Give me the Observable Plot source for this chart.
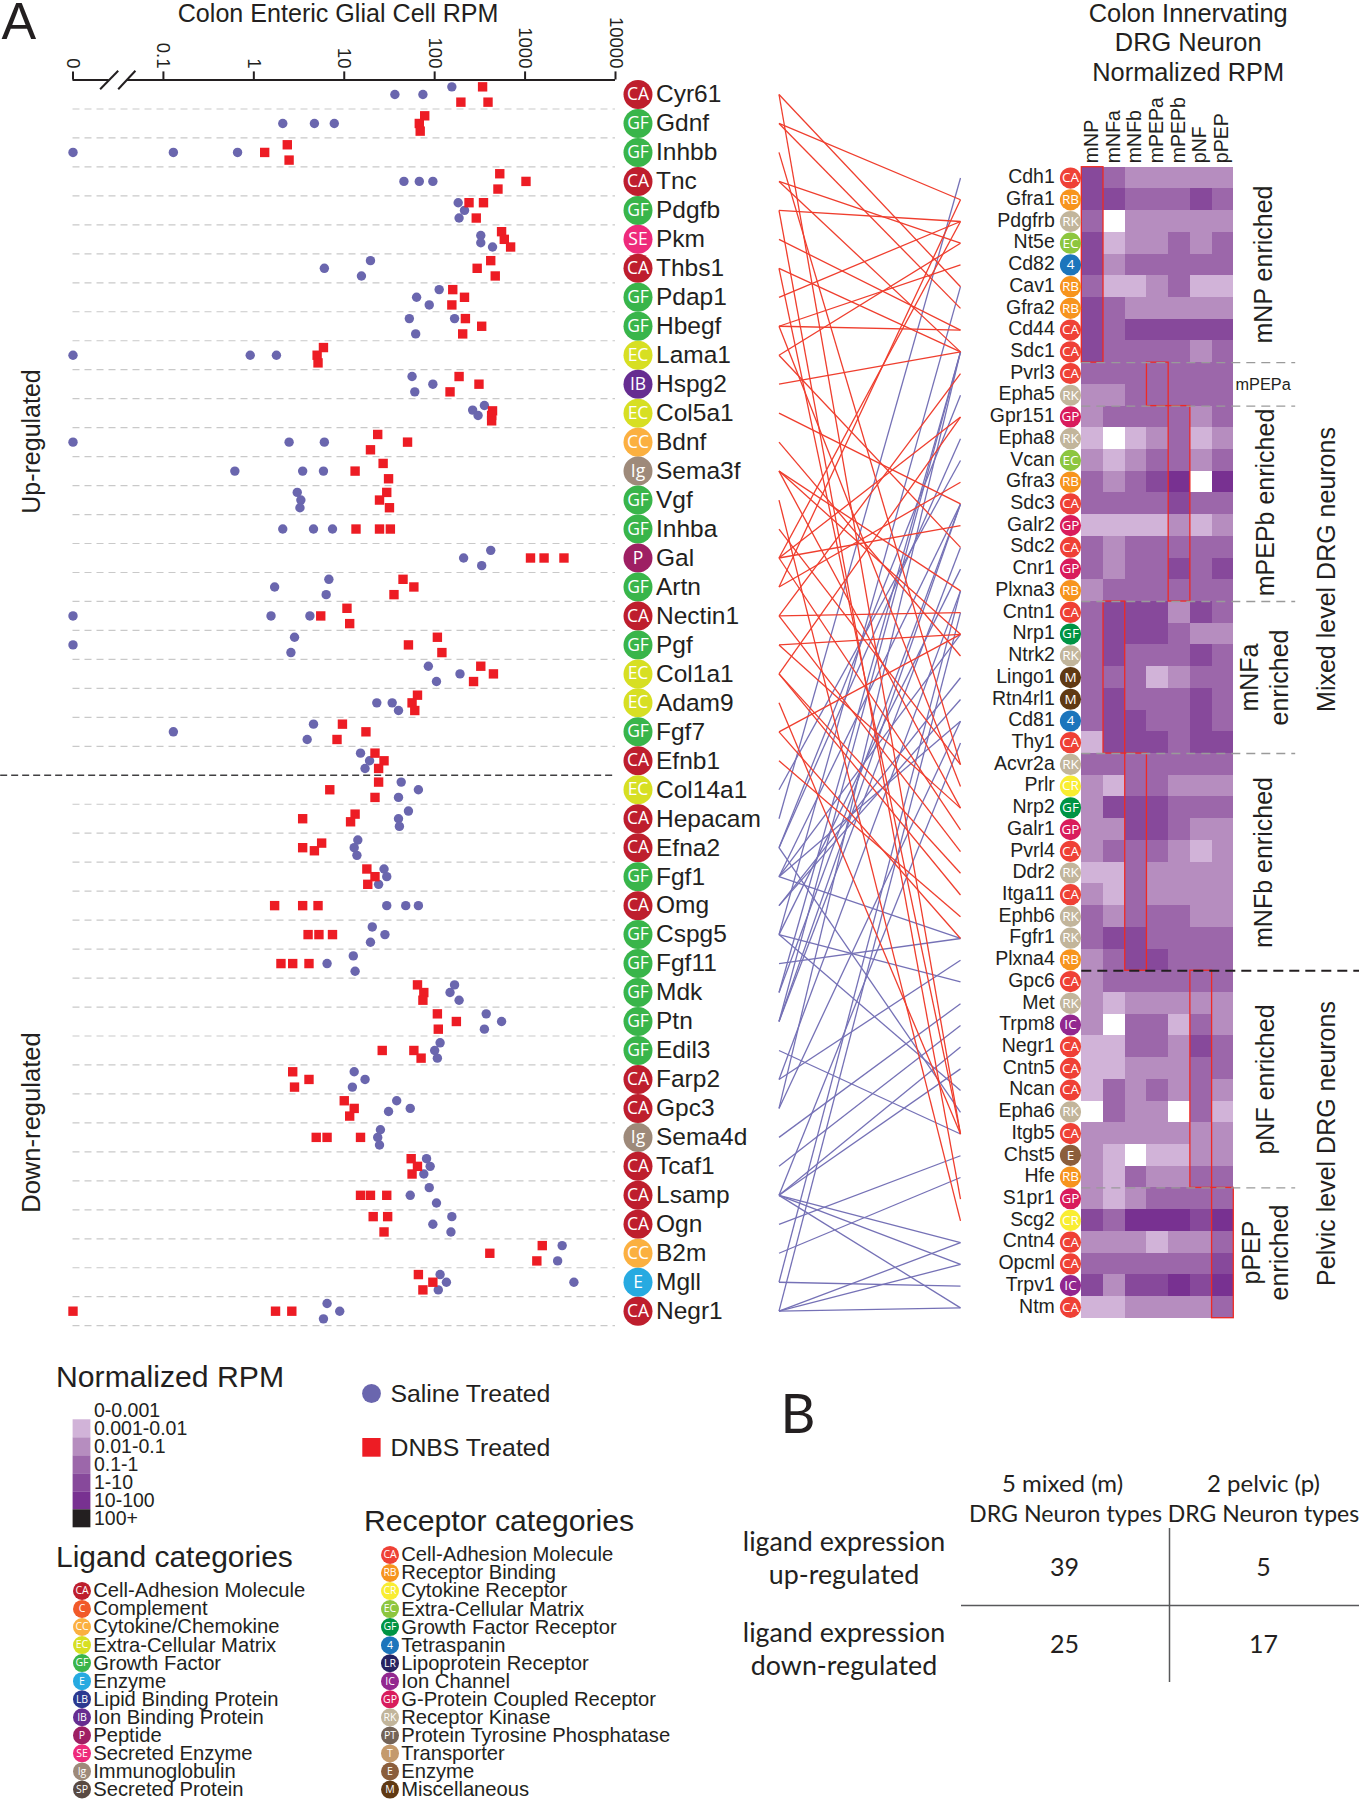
<!DOCTYPE html>
<html><head><meta charset="utf-8">
<script src="https://cdn.jsdelivr.net/npm/d3@7"></script>
<script src="https://cdn.jsdelivr.net/npm/@observablehq/plot@0.6"></script>
<style>
html,body{margin:0;padding:0;background:#fff}
#page{position:relative;width:1359px;height:1800px;overflow:hidden}
#page svg{position:absolute;left:0;top:0;background:transparent;overflow:visible}
</style></head><body><div id="page"></div>
<script>
// ---------- Panel A, left: ligands ----------
const ligandNames = ["Cyr61","Gdnf","Inhbb","Tnc","Pdgfb","Pkm","Thbs1","Pdap1","Hbegf","Lama1","Hspg2","Col5a1","Bdnf","Sema3f","Vgf","Inhba","Gal","Artn","Nectin1","Pgf","Col1a1","Adam9","Fgf7","Efnb1","Col14a1","Hepacam","Efna2","Fgf1","Omg","Cspg5","Fgf11","Mdk","Ptn","Edil3","Farp2","Gpc3","Sema4d","Tcaf1","Lsamp","Ogn","B2m","Mgll","Negr1"];
const ligandCats = ["CA","GF","GF","CA","GF","SE","CA","GF","GF","EC","IB","EC","CC","Ig","GF","GF","P","GF","CA","GF","EC","EC","GF","CA","EC","CA","CA","GF","CA","GF","GF","GF","GF","GF","CA","CA","Ig","CA","CA","CA","CC","E","CA"];
// log10 RPM per replicate; -2 is the "0" position of the broken axis
const salineLog = [[2.19,1.56,1.87],[0.32,0.67,0.89],[-2,-0.89,-0.18],[1.66,1.83,1.98],[2.26,2.33,2.27],[2.51,2.51,2.64],[1.29,0.78,1.19],[2.05,1.80,1.94],[1.72,2.22,1.79],[-2,-0.04,0.25],[1.75,1.98,1.78],[2.55,2.42,2.48],[-2,0.39,0.78],[-0.21,0.54,0.77],[0.48,0.52,0.51],[0.32,0.66,0.87],[2.62,2.32,2.52],[0.83,0.23,0.80],[-2,0.19,0.62],[0.45,-2,0.41],[1.93,2.28,2.02],[1.36,1.53,1.60],[0.66,-0.89,0.59],[1.18,1.28,1.23],[1.63,1.82,1.60],[1.71,1.60,1.61],[1.15,1.11,1.14],[1.44,1.47,1.38],[1.47,1.68,1.82],[1.31,1.45,1.29],[1.10,0.81,1.12],[2.22,2.17,2.27],[2.57,2.74,2.55],[2.06,2.00,2.03],[1.11,1.23,1.09],[1.58,1.73,1.49],[1.40,1.37,1.39],[1.91,1.95,1.88],[1.94,1.73,2.02],[2.19,1.98,2.18],[3.41,3.36],[2.06,2.13,2.04,3.54],[0.81,0.95,0.77]];
const salineLane = [[-1,0,0],[0,0,0],[0,0,0],[0,0,0],[-1,0,1],[-.5,.45,1],[-1,0,1],[-1,0,1],[-1,-1,1],[0,0,0],[-1,0,1],[-1,-.4,.3],[0,0,0],[0,0,0],[-1,0,1],[0,0,0],[-1,0,1],[-1,0,1],[0,0,0],[-1,0,1],[-1,0,1],[0,0,1],[-1,0,1],[-1,0,1],[-1,0,1],[-1,0,1],[-1,0,1],[-1,0,1],[0,0,0],[-1,0,1],[-1,0,1],[-1,0,1],[-1,0,1],[-1,0,1],[-1,0,1],[-1,0,.4],[-1,0,1],[-1,0,1],[-1,0,1],[-1,0,1],[-1,1],[-1,0,1,0],[-1,0,1]];
const dnbsLog = [[2.53,2.29,2.59],[1.89,1.83,1.84],[0.37,0.12,0.39],[2.72,3.01,2.70],[2.38,2.54,2.46],[2.74,2.77,2.84],[2.62,2.47,2.67],[2.20,2.33,2.19],[2.34,2.52,2.31],[0.77,0.70,0.71],[2.27,2.49,2.17],[2.64,2.63,2.63],[1.37,1.70,1.29],[1.43,1.12,1.49],[1.47,1.39,1.50],[1.13,1.39,1.51],[3.06,3.21,3.43],[1.65,1.77,1.55],[1.03,0.74,1.06],[2.03,1.71,2.08],[2.51,2.65,2.43],[1.81,1.75,1.78],[0.98,1.24,0.92],[1.34,1.44,1.38],[1.38,0.84,1.34],[1.12,0.54,1.07],[0.75,0.54,0.67],[1.25,1.34,1.26],[0.23,0.54,0.71],[0.60,0.72,0.87],[0.30,0.43,0.61],[1.81,1.88,1.87],[2.03,2.24,2.04],[1.42,1.77,1.85],[0.43,0.61,0.45],[1.00,1.11,1.06],[0.69,0.81,1.18],[1.74,1.81,1.75],[1.18,1.29,1.47],[1.32,1.48,1.44],[3.19,2.61,3.13],[1.82,1.98,1.87],[-2,0.24,0.42]];
const dnbsLane = [[-1,1,1],[-1,0,1],[-1,0,1],[-1,0,1],[-1,-1,1],[-1,0,1],[-1,0,1],[-1,0,1],[-1,0,1],[-1,0,1],[-1,0,1],[-.3,.3,1],[-1,0,1],[-1,0,1],[-1,0,1],[0,0,0],[0,0,0],[-1,0,1],[-1,0,1],[-1,0,1],[-1,0,1],[-1,0,1],[-1,0,1],[-1,0,1],[-1,0,1],[-.6,0,.4],[-.6,0,.4],[-1,0,1],[0,0,0],[0,0,0],[0,0,0],[-1,0,1],[-1,0,1],[0,0,1],[-1,0,1],[-1,0,1],[0,0,0],[-1,0,1],[0,0,0],[-1,-1,1],[-1,0,1],[-1,0,1],[0,0,0]];
const rpmTicks = [-2,-1,0,1,2,3,4];
const rpmTickLabels = ["0","0.1","1","10","100","1000","10000"];

// ---------- Panel A, right: receptors ----------
const receptorNames = ["Cdh1","Gfra1","Pdgfrb","Nt5e","Cd82","Cav1","Gfra2","Cd44","Sdc1","Pvrl3","Epha5","Gpr151","Epha8","Vcan","Gfra3","Sdc3","Galr2","Sdc2","Cnr1","Plxna3","Cntn1","Nrp1","Ntrk2","Lingo1","Rtn4rl1","Cd81","Thy1","Acvr2a","Prlr","Nrp2","Galr1","Pvrl4","Ddr2","Itga11","Ephb6","Fgfr1","Plxna4","Gpc6","Met","Trpm8","Negr1","Cntn5","Ncan","Epha6","Itgb5","Chst5","Hfe","S1pr1","Scg2","Cntn4","Opcml","Trpv1","Ntm"];
const receptorCats = ["CA","RB","RK","EC","4","RB","RB","CA","CA","CA","RK","GP","RK","EC","RB","CA","GP","CA","GP","RB","CA","GF","RK","M","M","4","CA","RK","CR","GF","GP","CA","RK","CA","RK","RK","RB","CA","RK","IC","CA","CA","CA","RK","CA","E","RB","GP","CR","CA","CA","IC","CA"];
const neuronTypes = ["mNP","mNFa","mNFb","mPEPa","mPEPb","pNF","pPEP"];
// colour class 0..6 of each receptor in each neuron type
const rpmClass = [[4,3,2,2,2,2,2],[4,4,3,3,3,4,3],[3,0,2,2,2,2,2],[4,1,2,2,3,2,3],[4,2,3,3,3,3,3],[3,1,1,2,3,1,1],[4,3,2,2,2,2,2],[4,3,4,4,4,4,4],[4,3,3,3,3,2,3],[3,3,3,3,3,3,3],[2,2,3,3,3,3,3],[2,3,3,3,3,2,3],[1,0,1,2,3,1,2],[2,1,2,3,3,2,3],[3,2,3,4,5,0,5],[3,3,3,3,4,3,3],[1,1,1,1,2,1,2],[3,2,3,3,3,3,3],[3,2,3,3,4,3,4],[2,3,3,3,3,3,3],[3,4,4,4,2,4,3],[3,4,4,4,3,2,2],[3,4,3,3,3,4,3],[3,3,3,1,2,3,3],[3,4,3,3,3,4,3],[3,4,4,3,3,4,3],[1,4,4,4,3,4,4],[3,3,3,3,3,3,3],[2,1,3,3,2,2,2],[2,4,4,4,3,3,3],[2,2,4,4,3,2,2],[2,3,3,3,2,1,2],[1,1,3,2,2,2,2],[2,1,3,2,2,2,2],[3,2,3,3,3,2,2],[3,4,4,3,3,3,3],[2,3,4,4,3,3,3],[2,3,3,3,3,3,3],[2,1,2,2,2,2,2],[2,0,3,3,1,3,2],[1,1,3,3,2,4,3],[1,1,2,2,2,3,3],[1,3,2,3,2,3,2],[0,3,2,2,0,3,1],[2,2,2,2,2,2,2],[2,1,0,1,1,2,2],[2,1,3,2,2,3,3],[2,1,2,3,3,3,3],[4,3,5,5,5,4,5],[2,2,2,1,2,2,3],[3,3,3,3,3,3,4],[4,2,4,4,5,4,5],[1,1,2,2,2,2,3]];
const rpmClassLabels = ["0-0.001","0.001-0.01","0.01-0.1","0.1-1","1-10","10-100","100+"];
const rpmClassColors = ["#ffffff","#d1b3d8","#b68dbf","#9c67aa","#87499b","#783191","#231f20"];
// enriched block: neuron-type column, first and last-plus-one receptor row
const blockColumn = [0,3,4,1,2,5,6];
const blockStart = [0,9,11,20,27,37,47];
const blockEnd = [9,11,20,27,37,47,53];

// ligand index -> receptor index
const upLinks = [[0,5],[0,44],[1,1],[1,6],[2,27],[3,3],[3,8],[4,2],[4,47],[5,7],[6,8],[6,44],[7,2],[8,4],[8,7],[8,28],[9,3],[9,17],[10,8],[11,15],[12,22],[13,21],[13,29],[13,19],[14,48],[15,27],[16,16],[16,30],[16,11],[16,2],[17,1],[17,14],[18,9],[18,31],[18,20],[19,21],[19,29],[20,11],[20,32],[20,33],[21,44],[22,21],[22,35],[23,34]];
const downLinks = [[24,13],[25,0],[26,10],[26,43],[26,12],[27,35],[27,21],[27,15],[27,25],[28,24],[28,23],[29,37],[29,42],[29,5],[29,18],[30,35],[31,8],[31,15],[32,15],[32,8],[32,17],[33,44],[34,36],[34,19],[35,25],[35,8],[36,38],[37,39],[38,40],[38,41],[38,49],[38,50],[38,52],[38,26],[39,45],[40,46],[41,51],[41,19],[42,52],[42,49],[42,50],[42,20]];

// ---------- Legends ----------
const ligandCatCodes = ["CA","C","CC","EC","GF","E","LB","IB","P","SE","Ig","SP"];
const ligandCatNames = ["Cell-Adhesion Molecule","Complement","Cytokine/Chemokine","Extra-Cellular Matrix","Growth Factor","Enzyme","Lipid Binding Protein","Ion Binding Protein","Peptide","Secreted Enzyme","Immunoglobulin","Secreted Protein"];
const ligandCatColors = ["#be1e2d","#f15a29","#fbb040","#d7df23","#39b54a","#27aae1","#2b3990","#662d91","#9e1f63","#ee2a7b","#9e8a7a","#594a42"];
const receptorCatCodes = ["CA","RB","CR","EC","GF","4","LR","IC","GP","RK","PT","T","E","M"];
const receptorCatNames = ["Cell-Adhesion Molecule","Receptor Binding","Cytokine Receptor","Extra-Cellular Matrix","Growth Factor Receptor","Tetraspanin","Lipoprotein Receptor","Ion Channel","G-Protein Coupled Receptor","Receptor Kinase","Protein Tyrosine Phosphatase","Transporter","Enzyme","Miscellaneous"];
const receptorCatColors = ["#ef4136","#f7941e","#f9ed32","#8dc63f","#009444","#1c75bc","#262262","#92278f","#d91c5c","#c2b59b","#736357","#c49a6c","#8b5e3c","#603913"];

// ---------- Panel B ----------
const tableColumns = ["5 mixed (m)","2 pelvic (p)"];
const tableRows = ["up-regulated","down-regulated"];
const tableValues = [[39,5],[25,17]];

// ---------- Layout and style ----------
const W = 1359, H = 1800;
const INK = "#231f20", SANS = "Liberation Sans, Arial, sans-serif", HUM = "Lato, Open Sans, sans-serif", BADGE = "Open Sans, sans-serif";
const SALINE = "#6a66ae", DNBS = "#ed1c24", LINK_UP = "#ef3e2e", LINK_DOWN = "#7571b6";
const ligandColor = Object.fromEntries(ligandCatCodes.map((c,i)=>[c,ligandCatColors[i]]));
const receptorColor = Object.fromEntries(receptorCatCodes.map((c,i)=>[c,receptorCatColors[i]]));
const laneStep = 0.2645;
const ligandRows = ligandNames.map((name,i)=>({name,i,cat:ligandCats[i]}));
const receptorRows = receptorNames.map((name,i)=>({name,i,cat:receptorCats[i]}));
const points = (vals,lanes)=>vals.flatMap((row,i)=>row.map((v,j)=>({v,row:i+lanes[i][j]*laneStep})));
const page = document.getElementById("page");
const add = o => page.appendChild(Plot.plot({width:W,height:H,margin:0,style:{background:"transparent",overflow:"visible"},...o}));

// Dot panel
const ligandX = {type:"linear",domain:[-2,4],range:[72.5,615],axis:null};
const ligandY = {type:"linear",domain:[0,42],range:[94,1310.7],axis:null};
add({
  x:ligandX, y:ligandY,
  marks:[
    Plot.ruleY(d3.range(42).map(i=>i+.5).concat(42.5).filter(r=>r!==23.5),{x1:-2,x2:4,stroke:"#c9c9c9",strokeWidth:1.2,strokeDasharray:"7,5"}),
    Plot.ruleY([23.5],{x1:-2.8,x2:4,stroke:"#414042",strokeWidth:1.4,strokeDasharray:"7,4"}),
    Plot.ruleY([-0.5],{x1:-2,x2:-1.6,stroke:INK,strokeWidth:2}),
    Plot.ruleY([-0.5],{x1:-1.4,x2:4,stroke:INK,strokeWidth:2}),
    Plot.link([[-1.70,-1.50],[-1.50,-1.31]],{x1:d=>d[0],x2:d=>d[1],y1:-0.18,y2:-0.82,stroke:INK,strokeWidth:2}),
    Plot.ruleX(rpmTicks,{x:d=>d,y1:-0.78,y2:-0.5,stroke:INK,strokeWidth:2}),
    Plot.text(rpmTicks,{x:d=>d,y:-0.9,text:(d,i)=>rpmTickLabels[i],rotate:90,textAnchor:"end",fontSize:18.5,fontFamily:SANS,fill:INK}),
    Plot.dot(points(salineLog,salineLane),{x:"v",y:"row",r:4.7,fill:SALINE,stroke:"none"}),
    Plot.dot(points(dnbsLog,dnbsLane),{x:"v",y:"row",r:5.3,symbol:"square",fill:DNBS,stroke:"none"}),
    Plot.dot(ligandRows,{x:4,dx:22.5,y:"i",r:14.5,fill:d=>ligandColor[d.cat],stroke:"none"}),
    Plot.text(ligandRows,{x:4,dx:22.5,y:"i",text:"cat",fill:"#fff",fontSize:17.5,fontFamily:BADGE}),
    Plot.text(ligandRows,{x:4,dx:40.5,y:"i",text:"name",textAnchor:"start",fill:INK,fontSize:24.5,fontFamily:SANS})
  ]
});

// Links between ligand rows and receptor rows
const receptorOnLigandAxis = i => 2.884 + 0.75*i;
add({
  x:{type:"linear",domain:[0,1],range:[778.5,960],axis:null}, y:ligandY,
  marks:[
    Plot.link(downLinks,{x1:0,x2:1,y1:d=>d[0],y2:d=>receptorOnLigandAxis(d[1]),stroke:LINK_DOWN,strokeWidth:1.3}),
    Plot.link(upLinks,{x1:0,x2:1,y1:d=>d[0],y2:d=>receptorOnLigandAxis(d[1]),stroke:LINK_UP,strokeWidth:1.3})
  ]
});

// Heatmap
const cells = rpmClass.flatMap((row,r)=>row.map((k,c)=>({r,c,k})));
const divider = (rows,stroke,x2,width,dash)=>Plot.ruleY(rows,{x1:0,x2,stroke,strokeWidth:width,strokeDasharray:dash});
add({
  x:{type:"linear",domain:[0,7],range:[1081.3,1233.3],axis:null},
  y:{type:"linear",domain:[0,53],range:[166.7,1317.7],axis:null},
  color:{type:"ordinal",domain:d3.range(7),range:rpmClassColors},
  marks:[
    Plot.rect(cells,{x1:"c",x2:d=>d.c+1,y1:"r",y2:d=>d.r+1,fill:"k",shapeRendering:"crispEdges"}),
    Plot.rect(blockColumn.map((c,i)=>({c,i})),{x1:"c",x2:d=>d.c+1,y1:d=>blockStart[d.i],y2:d=>blockEnd[d.i],fill:"none",stroke:"#ee2a24",strokeWidth:1.3}),
    divider([9,11,20,27,47],"#9a9a9a",9.85,1.4,"9,6"),
    divider([37],"#231f20",12.8,2,"10,6"),
    Plot.text(neuronTypes,{x:(d,i)=>i+.45,y:0,dy:-4,text:d=>d,rotate:-90,textAnchor:"start",fontSize:19.5,fontFamily:SANS,fill:INK}),
    Plot.dot(receptorRows,{x:0,dx:-11.3,y:d=>d.i+.5,r:10.6,fill:d=>receptorColor[d.cat],stroke:"none"}),
    Plot.text(receptorRows,{x:0,dx:-11.3,y:d=>d.i+.5,text:"cat",fill:"#fff",fontSize:13.5,fontFamily:BADGE}),
    Plot.text(receptorRows,{x:0,dx:-27,y:d=>d.i+.5,dy:-1,text:"name",textAnchor:"end",fill:INK,fontSize:19.5,fontFamily:SANS})
  ]
});

// Overlay: titles, annotations, legends and Panel B in page coordinates
const txt = (s,x,y,o={}) => Plot.text([s],{x,y,text:d=>d,fontSize:o.size??25,textAnchor:o.anchor??"start",lineAnchor:o.rotate!=null?"middle":"bottom",rotate:o.rotate,fontFamily:o.font??SANS,fill:INK});
const vert = (s,x,y,size=25)=>txt(s,x,y,{rotate:-90,anchor:"middle",size});
const catLegend = (codes,names,colors,xBadge,xText,y0)=>{
  const rows = codes.map((code,i)=>({code,name:names[i],color:colors[i],y:y0+18.05*i}));
  return [
    Plot.dot(rows,{x:xBadge,y:"y",r:9,fill:"color",stroke:"none"}),
    Plot.text(rows,{x:xBadge,y:"y",text:"code",fill:"#fff",fontSize:10.5,fontFamily:BADGE}),
    Plot.text(rows,{x:xText,y:"y",text:"name",textAnchor:"start",fontSize:20.2,fontFamily:SANS,fill:INK})
  ];
};
const rpmLegend = rpmClassLabels.map((label,i)=>({label,i,color:rpmClassColors[i]}));
add({
  x:{type:"identity"}, y:{type:"identity"}, axis:null,
  marks:[
    txt("A",1,38,{size:52}),
    txt("Colon Enteric Glial Cell RPM",337.6,21,{anchor:"middle",size:25.1}),
    vert("Up-regulated",31,441),
    vert("Down-regulated",31,1122,25.6),
    txt("Colon Innervating",1187.7,21,{anchor:"middle",size:25.4}),
    txt("DRG Neuron",1187.7,50,{anchor:"middle",size:25.4}),
    txt("Normalized RPM",1187.7,80,{anchor:"middle",size:25.4}),
    vert("mNP enriched",1263,264),
    txt("mPEPa",1235,389,{size:16.3}),
    vert("mPEPb enriched",1265,502),
    vert("mNFa",1249,677), vert("enriched",1279,677),
    vert("mNFb enriched",1263,862),
    vert("pNF enriched",1265,1079),
    vert("pPEP",1251,1252), vert("enriched",1279,1252),
    vert("Mixed level DRG neurons",1326,569),
    vert("Pelvic level DRG neurons",1326,1143),

    txt("Normalized RPM",55.5,1386,{size:30.2}),
    Plot.rect(rpmLegend,{x1:72.6,x2:90.4,y1:d=>1401.3+18*d.i,y2:d=>1419.3+18*d.i,fill:"color"}),
    Plot.text(rpmLegend,{x:93.5,y:d=>1410.7+18*d.i,text:"label",textAnchor:"start",fontSize:19.5,fontFamily:SANS,fill:INK}),
    Plot.dot([0],{x:371,y:1393,r:9.4,fill:SALINE,stroke:"none"}),
    txt("Saline Treated",390,1401,{size:24.8}),
    Plot.rect([0],{x1:362.3,x2:380.6,y1:1438,y2:1456.7,fill:DNBS}),
    txt("DNBS Treated",390,1455,{size:24.8}),
    txt("Receptor categories",363.5,1530,{size:30.2}),
    txt("Ligand categories",55.5,1566.7,{size:30}),
    ...catLegend(ligandCatCodes,ligandCatNames,ligandCatColors,81.5,92.7,1590.4),
    ...catLegend(receptorCatCodes,receptorCatNames,receptorCatColors,389.5,400.7,1554.4),

    txt("B",780,1432,{size:54,font:HUM}),
    txt(tableColumns[0],1062,1491.5,{anchor:"middle",size:24,font:HUM}),
    txt(tableColumns[1],1263,1491.5,{anchor:"middle",size:24,font:HUM}),
    txt("DRG Neuron types",1065,1521.5,{anchor:"middle",size:23.2,font:HUM}),
    txt("DRG Neuron types",1263,1521.5,{anchor:"middle",size:23,font:HUM}),
    txt("ligand expression",843.5,1550.5,{anchor:"middle",size:26.8,font:HUM}),
    txt(tableRows[0],843.5,1583.5,{anchor:"middle",size:26.8,font:HUM}),
    txt("ligand expression",843.5,1641,{anchor:"middle",size:26.8,font:HUM}),
    txt(tableRows[1],843.5,1674,{anchor:"middle",size:26.8,font:HUM}),
    txt(String(tableValues[0][0]),1064,1575,{anchor:"middle",size:25,font:HUM}),
    txt(String(tableValues[0][1]),1263,1575,{anchor:"middle",size:25,font:HUM}),
    txt(String(tableValues[1][0]),1064,1652,{anchor:"middle",size:25,font:HUM}),
    txt(String(tableValues[1][1]),1263,1652,{anchor:"middle",size:25,font:HUM}),
    Plot.ruleX([1169],{y1:1528,y2:1682,stroke:"#58595b",strokeWidth:1.5}),
    Plot.ruleY([1605],{x1:961,x2:1359,stroke:"#58595b",strokeWidth:1.5})
  ]
});
</script></body></html>
